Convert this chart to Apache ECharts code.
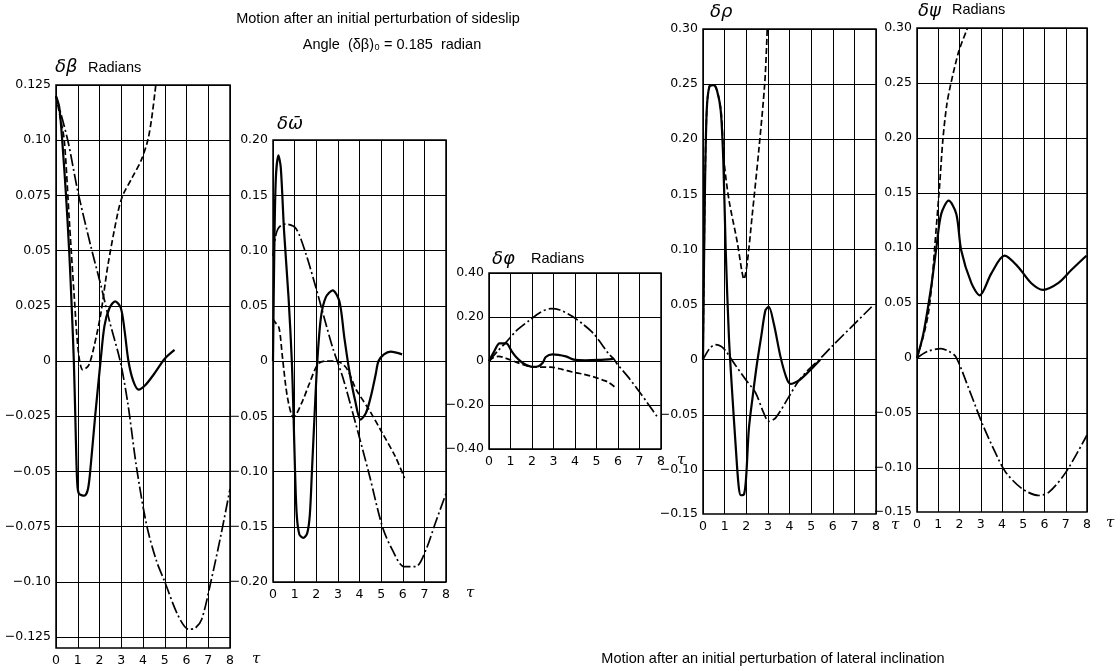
<!DOCTYPE html>
<html>
<head>
<meta charset="utf-8">
<title>Lateral motion after initial perturbations</title>
<script src="https://cdn.jsdelivr.net/npm/echarts@6/dist/echarts.min.js"></script>
<style>
  html, body { margin: 0; padding: 0; background: #fff; }
  #chart { width: 1120px; height: 671px; }
</style>
</head>
<body>
<div id="chart"></div>
<script>
// time axis, shared by all panels
var tauTicks = [0, 1, 2, 3, 4, 5, 6, 7, 8];

// --- d beta panel ---
var betaGrid = [-0.125, -0.1, -0.075, -0.05, -0.025, 0, 0.025, 0.05, 0.075, 0.1, 0.125];
var betaText = ['\u22120.125', '\u22120.10', '\u22120.075', '\u22120.05', '\u22120.025', '0', '0.025', '0.05', '0.075', '0.10', '0.125'];
var betaSolid = [[0,0.12],[0.15,0.115],[0.3,0.098],[0.46,0.075],[0.61,0.049],[0.72,0.025],[0.82,0],[0.9,-0.03],[0.97,-0.054],[1.05,-0.06],[1.3,-0.061],[1.47,-0.058],[1.6,-0.047],[1.8,-0.025],[2.05,0],[2.23,0.016],[2.46,0.024],[2.72,0.027],[2.98,0.024],[3.15,0.014],[3.33,0],[3.55,-0.009],[3.8,-0.013],[4.1,-0.011],[4.5,-0.006],[5.0,0.001],[5.45,0.005]];
var betaDash = [[0,0.12],[0.2,0.11],[0.38,0.1],[0.61,0.064],[0.84,0.029],[1.03,0.004],[1.23,-0.004],[1.5,-0.002],[1.76,0.007],[2.07,0.022],[2.38,0.043],[2.84,0.067],[3.07,0.075],[3.5,0.083],[3.92,0.091],[4.22,0.1],[4.4,0.11],[4.6,0.126]];
var betaDashDot = [[0,0.12],[0.54,0.1],[1.0,0.077],[1.6,0.052],[2.07,0.034],[2.46,0.018],[2.95,0],[3.3,-0.019],[3.7,-0.048],[4.16,-0.074],[4.6,-0.09],[5.0,-0.1],[5.6,-0.115],[6.1,-0.1215],[6.4,-0.121],[6.7,-0.117],[7.12,-0.1],[7.58,-0.079],[8.0,-0.058]];

// --- d omega-bar panel ---
var omegaGrid = [-0.2, -0.15, -0.1, -0.05, 0, 0.05, 0.1, 0.15, 0.2];
var omegaText = ['\u22120.20', '\u22120.15', '\u22120.10', '\u22120.05', '0', '0.05', '0.10', '0.15', '0.20'];
var omegaSolid = [[0,0],[0.06,0.1],[0.13,0.165],[0.25,0.186],[0.36,0.175],[0.51,0.118],[0.72,0.057],[0.87,0],[0.95,-0.05],[1.02,-0.1],[1.1,-0.14],[1.22,-0.157],[1.4,-0.16],[1.58,-0.156],[1.7,-0.14],[1.8,-0.1],[1.92,-0.05],[2.05,0],[2.22,0.04],[2.45,0.058],[2.76,0.064],[3.07,0.054],[3.3,0.021],[3.53,-0.009],[3.8,-0.036],[4.05,-0.053],[4.3,-0.047],[4.55,-0.03],[4.75,-0.012],[4.88,0],[5.13,0.006],[5.44,0.0085],[5.97,0.006]];
var omegaDash = [[0,0.038],[0.1,0.035],[0.28,0.03],[0.44,0.003],[0.67,-0.033],[0.95,-0.051],[1.37,-0.036],[1.67,-0.021],[2.07,-0.003],[2.4,0],[2.9,0],[3.38,-0.006],[3.85,-0.026],[4.44,-0.044],[5.05,-0.065],[5.67,-0.087],[6.08,-0.106]];
var omegaDashDot = [[0,0.095],[0.12,0.113],[0.28,0.121],[0.59,0.124],[1.06,0.12],[1.52,0.097],[1.99,0.066],[2.37,0.039],[2.76,0.012],[3.23,-0.015],[3.8,-0.055],[4.44,-0.102],[5.06,-0.15],[5.52,-0.171],[6.06,-0.186],[6.6,-0.186],[7.07,-0.171],[7.5,-0.147],[8.0,-0.12]];

// --- d phi panel ---
var phiGrid = [-0.4, -0.2, 0, 0.2, 0.4];
var phiText = ['\u22120.40', '\u22120.20', '0', '0.20', '0.40'];
var phiSolid = [[0,0],[0.25,0.045],[0.49,0.08],[0.8,0.08],[1.05,0.045],[1.26,0.018],[1.57,-0.009],[2.03,-0.027],[2.3,-0.024],[2.5,-0.008],[2.64,0.018],[2.95,0.03],[3.57,0.021],[3.95,0.006],[4.49,0.003],[5.1,0.005],[5.8,0.01]];
var phiDash = [[0,0],[0.2,0.015],[0.45,0.021],[0.8,0.012],[1.26,-0.005],[1.7,-0.02],[2.03,-0.027],[2.88,-0.028],[3.4,-0.038],[3.87,-0.05],[4.4,-0.06],[4.87,-0.072],[5.3,-0.087],[5.56,-0.097],[5.87,-0.12]];
var phiDashDot = [[0,0],[0.4,0.045],[0.8,0.086],[1.3,0.14],[1.88,0.185],[2.4,0.222],[2.88,0.238],[3.3,0.232],[3.87,0.203],[4.4,0.165],[4.87,0.124],[5.25,0.075],[5.56,0.033],[5.8,0.01],[5.95,-0.012],[6.45,-0.07],[6.94,-0.133],[7.4,-0.195],[7.87,-0.26]];

// --- d rho panel ---
var rhoGrid = [-0.1, -0.05, 0, 0.05, 0.1, 0.15, 0.2, 0.25, 0.3];
var rhoLabels = [-0.14, -0.1, -0.05, 0, 0.05, 0.1, 0.15, 0.2, 0.25, 0.3];
var rhoText = ['\u22120.15', '\u22120.10', '\u22120.05', '0', '0.05', '0.10', '0.15', '0.20', '0.25', '0.30'];
var rhoSolid = [[0,0],[0.08,0.14],[0.17,0.225],[0.3,0.248],[0.5,0.249],[0.65,0.244],[0.82,0.226],[0.94,0.18],[1.05,0.1],[1.2,0.02],[1.35,-0.03],[1.5,-0.075],[1.65,-0.115],[1.75,-0.123],[1.9,-0.122],[2.0,-0.105],[2.12,-0.063],[2.3,-0.033],[2.5,-0.003],[2.7,0.022],[2.89,0.045],[3.04,0.048],[3.27,0.033],[3.58,0.003],[3.85,-0.016],[4.04,-0.022],[4.42,-0.019],[4.88,-0.011],[5.42,0]];
var rhoDash = [[0,0],[0.08,0.14],[0.17,0.225],[0.3,0.248],[0.5,0.249],[0.68,0.242],[0.84,0.225],[0.97,0.181],[1.2,0.145],[1.58,0.107],[1.8,0.08],[1.89,0.073],[2.04,0.087],[2.27,0.13],[2.58,0.19],[2.86,0.252],[2.97,0.3]];
var rhoDashDot = [[0,0],[0.3,0.01],[0.58,0.0136],[0.85,0.012],[1.05,0.008],[1.5,-0.005],[1.97,-0.018],[2.43,-0.03],[2.8,-0.048],[3.04,-0.056],[3.35,-0.053],[3.96,-0.034],[4.4,-0.02],[4.88,-0.009],[5.42,0.001],[5.96,0.012],[6.88,0.03],[7.8,0.048]];

// --- d psi panel ---
var psiGrid = rhoGrid;
var psiLabels = rhoLabels;
var psiText = rhoText;
var psiSolid = [[0,0],[0.3,0.022],[0.67,0.065],[0.91,0.1],[1.14,0.131],[1.49,0.143],[1.85,0.131],[2.08,0.098],[2.56,0.068],[2.95,0.057],[3.5,0.077],[4.12,0.093],[4.75,0.083],[5.38,0.068],[5.93,0.062],[6.64,0.068],[7.26,0.08],[7.97,0.093]];
var psiDash = [[0,0],[0.3,0.02],[0.53,0.04],[0.7,0.068],[0.83,0.1],[1.06,0.156],[1.22,0.199],[1.4,0.23],[1.6,0.25],[1.97,0.279],[2.38,0.3]];
var psiDashDot = [[0,0],[0.5,0.006],[1.13,0.0085],[1.5,0.006],[1.83,0.001],[2.46,-0.029],[3.08,-0.06],[3.71,-0.087],[4.18,-0.104],[4.96,-0.119],[5.74,-0.125],[6.21,-0.122],[7.0,-0.104],[8.0,-0.07]];

var NUM_FONT = 'DejaVu Sans';
var TXT_FONT = '"Liberation Sans", Arial, sans-serif';

var SOLID = { type: 'solid', width: 2.2 };
var DASH = { type: [6, 3], width: 1.7 };
var DASHDOT = { type: [12, 3, 2, 3], width: 1.7 };

// panel frames in pixels: left, top, width, height, y range, gap before "τ"
var panels = [
  { box: [56, 85, 174, 563], min: -0.13, max: 0.125, grid: betaGrid, labels: betaGrid, text: betaText, tauGap: 22,
    lines: [[betaDashDot, DASHDOT], [betaDash, DASH], [betaSolid, SOLID]] },
  { box: [273, 140, 173, 442], min: -0.2, max: 0.2, grid: omegaGrid, labels: omegaGrid, text: omegaText, tauGap: 20,
    lines: [[omegaDashDot, DASHDOT], [omegaDash, DASH], [omegaSolid, SOLID]] },
  { box: [489, 273, 172, 176], min: -0.4, max: 0.4, grid: phiGrid, labels: phiGrid, text: phiText, tauGap: 16,
    lines: [[phiDashDot, DASHDOT], [phiDash, DASH], [phiSolid, SOLID]] },
  { box: [703, 29, 173, 485], min: -0.14, max: 0.3, grid: rhoGrid, labels: rhoLabels, text: rhoText, tauGap: 15,
    lines: [[rhoDashDot, DASHDOT], [rhoDash, DASH], [rhoSolid, SOLID]] },
  { box: [917, 28, 170, 484], min: -0.14, max: 0.3, grid: psiGrid, labels: psiLabels, text: psiText, tauGap: 19,
    lines: [[psiDashDot, DASHDOT], [psiDash, DASH], [psiSolid, SOLID]] }
];

function labelFor(vals, text) {
  return function (v) {
    for (var i = 0; i < vals.length; i++) {
      if (Math.abs(vals[i] - v) < 1e-9) return text[i];
    }
    return '';
  };
}

var grids = [], xAxes = [], yAxes = [], series = [];
panels.forEach(function (p, i) {
  grids.push({
    left: p.box[0], top: p.box[1], width: p.box[2], height: p.box[3],
    show: true, borderColor: '#000', borderWidth: 1.5, backgroundColor: 'transparent',
    containLabel: false, outerBoundsMode: 'none'
  });
  xAxes.push({
    gridIndex: i, type: 'value', min: 0, max: 8, interval: 1, position: 'bottom',
    axisLine: { show: false, onZero: false }, axisTick: { show: false },
    axisLabel: { fontFamily: NUM_FONT, fontSize: 12.5, color: '#000', margin: 6,
      formatter: function (v) { return tauTicks.indexOf(v) >= 0 ? String(v) : ''; } },
    splitLine: { show: true, lineStyle: { color: '#000', width: 1 } },
    name: '\u03c4', nameLocation: 'end', nameGap: p.tauGap,
    nameTextStyle: { fontFamily: 'DejaVu Serif', fontStyle: 'italic', fontSize: 15, color: '#000',
      verticalAlign: 'top', padding: [4, 0, 0, 0] }
  });
  yAxes.push({
    gridIndex: i, type: 'value', min: p.min, max: p.max,
    axisLine: { show: false },
    axisTick: { show: false, customValues: p.grid },
    axisLabel: { customValues: p.labels, formatter: labelFor(p.labels, p.text),
      fontFamily: NUM_FONT, fontSize: 12.5, color: '#000', margin: 5 },
    splitLine: { show: true, lineStyle: { color: '#000', width: 1 } }
  });
  p.lines.forEach(function (l) {
    series.push({
      type: 'line', xAxisIndex: i, yAxisIndex: i, data: l[0],
      showSymbol: false, smooth: 0.3, silent: true, clip: true,
      lineStyle: { color: '#000', type: l[1].type, width: l[1].width }
    });
  });
});

function txt(x, y, s, font, align) {
  return { type: 'text', x: x, y: y, silent: true,
    style: { text: s, font: font, fill: '#000', textAlign: align || 'left', textVerticalAlign: 'middle',
      align: align || 'left', verticalAlign: 'middle' } };
}

var titleFont = '14.5px ' + TXT_FONT;
var symFont = 'italic 18px "DejaVu Sans"';
var graphics = [
  txt(378, 19, 'Motion after an initial perturbation of sideslip', titleFont, 'center'),
  txt(392, 45, 'Angle  (\u03b4\u03b2)\u2080 = 0.185  radian', titleFont, 'center'),
  txt(55, 67, '\u03b4\u03b2', symFont),
  txt(88, 68, 'Radians', titleFont),
  txt(277, 124, '\u03b4\u03c9\u0304', symFont),
  txt(492, 259, '\u03b4\u03c6', symFont),
  txt(531, 259, 'Radians', titleFont),
  txt(710, 12, '\u03b4\u03c1', symFont),
  txt(918, 11, '\u03b4\u03c8', symFont),
  txt(952, 10, 'Radians', titleFont),
  txt(773, 659, 'Motion after an initial perturbation of lateral inclination', titleFont, 'center')
];

var chart = echarts.init(document.getElementById('chart'), null, { renderer: 'canvas' });
chart.setOption({
  animation: false,
  backgroundColor: '#fff',
  grid: grids,
  xAxis: xAxes,
  yAxis: yAxes,
  series: series,
  graphic: graphics
});
</script>
</body>
</html>
